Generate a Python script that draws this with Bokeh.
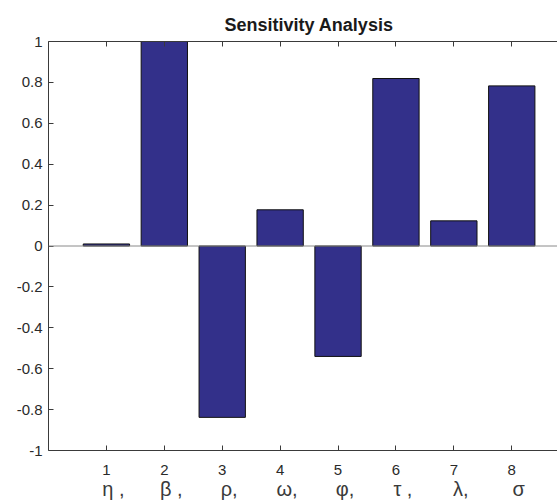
from bokeh.plotting import figure
from bokeh.models import Range1d, LinearAxis, FixedTicker, Span, Title
from bokeh.embed import file_html
from bokeh.resources import INLINE

# Parameter indices, their symbols and the sensitivity index of each
indices = [1, 2, 3, 4, 5, 6, 7, 8]
symbols = ["η ,", "β ,", "ρ,", "ω,", "φ,", "τ ,", "λ,", "σ"]
sensitivity = [0.01, 1.0, -0.838, 0.177, -0.54, 0.819, 0.123, 0.783]
y_ticks = [-1, -0.8, -0.6, -0.4, -0.2, 0, 0.2, 0.4, 0.6, 0.8, 1]
y_tick_labels = ["-1", "-0.8", "-0.6", "-0.4", "-0.2", "0", "0.2", "0.4", "0.6", "0.8", "1"]

FONT = "Liberation Sans"
AXIS_COLOR = "#3a3a3a"
BAR_COLOR = "#33308a"
X_START, X_END = 0, 8.79

p = figure(width=557, height=502, output_backend="svg", toolbar_location=None,
           x_range=Range1d(X_START, X_END), y_range=Range1d(-1, 1),
           x_axis_location=None, y_axis_location=None,
           min_border_left=48, min_border_right=0, min_border_top=41, min_border_bottom=50)
p.outline_line_color = None
p.outline_line_alpha = 0
p.outline_line_width = 0
p.xgrid.visible = False
p.ygrid.visible = False
p.background_fill_color = "white"
p.border_fill_color = "white"

p.title = Title(text="Sensitivity Analysis", align="left", offset=176,
                text_font=FONT, text_font_size="18px", text_font_style="bold",
                text_color="#1a1a1a", standoff=13)

p.vbar(x=indices, top=sensitivity, bottom=0, width=0.8,
       fill_color=BAR_COLOR, line_color="#111111", line_width=1)

p.add_layout(Span(location=0, dimension="width", line_color="#8a8a8a", line_width=1))


def style_axis(ax):
    ax.axis_line_color = AXIS_COLOR
    ax.major_tick_line_color = AXIS_COLOR
    ax.major_tick_in = 5
    ax.major_tick_out = 0
    ax.minor_tick_line_color = None
    ax.major_label_text_font = FONT
    ax.major_label_text_font_size = "15px"
    ax.major_label_text_color = "#2a2a2a"


left = LinearAxis(ticker=FixedTicker(ticks=y_ticks))
left.major_label_overrides = dict(zip(y_ticks, y_tick_labels))
left.major_label_standoff = 6
style_axis(left)
p.add_layout(left, "left")

bottom = LinearAxis(ticker=FixedTicker(ticks=indices))
style_axis(bottom)
bottom.major_label_standoff = 14
p.add_layout(bottom, "below")

# symbol row sits slightly right of each index, like a typed label line
p.extra_x_ranges = {"symbols": Range1d(X_START - 0.12, X_END - 0.12)}
greek = LinearAxis(ticker=FixedTicker(ticks=indices), x_range_name="symbols")
greek.major_label_overrides = dict(zip(indices, symbols))
greek.axis_line_color = None
greek.major_tick_line_color = None
greek.minor_tick_line_color = None
greek.major_label_standoff = -6
greek.major_label_text_font = FONT
greek.major_label_text_font_size = "20px"
greek.major_label_text_color = "#3a3a3a"
p.add_layout(greek, "below")

# upper frame edge with inward ticks, no labels
top = LinearAxis(ticker=FixedTicker(ticks=indices))
style_axis(top)
top.major_label_overrides = {i: "" for i in indices}
top.major_label_standoff = 0
p.add_layout(top, "above")

open("out.html", "w").write(file_html(p, INLINE))
